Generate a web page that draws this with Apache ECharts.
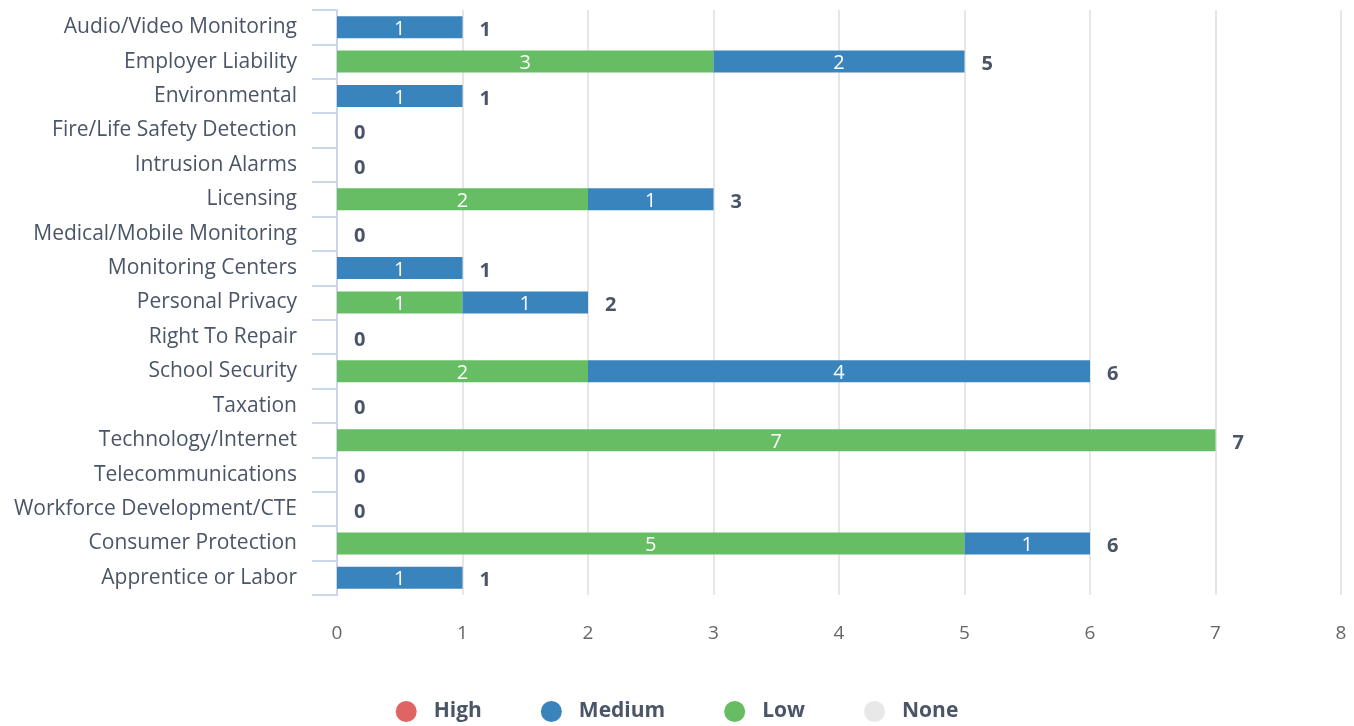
<!DOCTYPE html>
<html>
<head>
<meta charset="utf-8">
<script src="https://cdn.jsdelivr.net/npm/echarts@6/dist/echarts.min.js"></script>
<style>html,body{margin:0;padding:0;background:#fff}#c{width:1354px;height:726px}</style>
</head>
<body>
<div id="c"></div>
<script>
const categories = ["Audio/Video Monitoring","Employer Liability","Environmental","Fire/Life Safety Detection","Intrusion Alarms","Licensing","Medical/Mobile Monitoring","Monitoring Centers","Personal Privacy","Right To Repair","School Security","Taxation","Technology/Internet","Telecommunications","Workforce Development/CTE","Consumer Protection","Apprentice or Labor"];
const highValues   = [0,0,0,0,0,0,0,0,0,0,0,0,0,0,0,0,0];
const mediumValues = [1,2,1,0,0,1,0,1,1,0,4,0,0,0,0,1,1];
const lowValues    = [0,3,0,0,0,2,0,0,1,0,2,0,7,0,0,5,0];
const noneValues   = [0,0,0,0,0,0,0,0,0,0,0,0,0,0,0,0,0];
const xTicks = [0,1,2,3,4,5,6,7,8];

const totals = categories.map((c,i)=>highValues[i]+mediumValues[i]+lowValues[i]+noneValues[i]);
const FONT = '"Open Sans", sans-serif';
const inLabel = {show:true, position:'inside', color:'#fff', fontFamily:FONT, fontSize:20, offset:[0,2],
  formatter:p=>p.value?String(p.value):''};

function barSeries(name, data, color){
  return {name, type:'bar', stack:'total', data, barWidth:22, itemStyle:{color}, label:inLabel, emphasis:{disabled:true}};
}

const chart = echarts.init(document.getElementById('c'));
chart.setOption({
  animation:false,
  grid:{left:337, right:13, top:10, bottom:131, containLabel:false},
  legend:{
    data:['High','Medium','Low','None'], bottom:-1, left:'center',
    icon:'circle', itemWidth:21, itemHeight:21, itemGap:59,
    textStyle:{fontFamily:FONT, fontSize:21, fontWeight:'bold', color:'#4a5568', padding:[0,0,0,12]}
  },
  xAxis:{
    type:'value', min:0, max:8, interval:1,
    axisLine:{show:false}, axisTick:{show:false},
    splitLine:{lineStyle:{color:'#e6e6e6', width:2}},
    axisLabel:{fontFamily:FONT, fontSize:19, color:'#666', margin:29,
      formatter:v=>xTicks.includes(v)?String(v):''}
  },
  yAxis:{
    type:'category', data:categories, inverse:true,
    axisLine:{show:true, lineStyle:{color:'#ccd6eb', width:2}},
    axisTick:{show:true, length:25, lineStyle:{color:'#ccd6eb', width:2}},
    axisLabel:{fontFamily:FONT, fontSize:21, color:'#4a5568', margin:40, padding:[4,0,0,0]}
  },
  series:[
    barSeries('High', highValues, '#e06464'),
    barSeries('Low', lowValues, '#66bd63'),
    barSeries('Medium', mediumValues, '#3a84bd'),
    barSeries('None', noneValues, '#e8e8e8'),
    {name:'Total', type:'bar', stack:'total', data:categories.map(()=>0), barWidth:22,
     itemStyle:{color:'transparent'}, emphasis:{disabled:true},
     label:{show:true, position:'right', distance:17, offset:[0,3], fontFamily:FONT, fontSize:20,
       fontWeight:'bold', color:'#4a5568', formatter:p=>String(totals[p.dataIndex])}}
  ]
});
</script>
</body>
</html>
